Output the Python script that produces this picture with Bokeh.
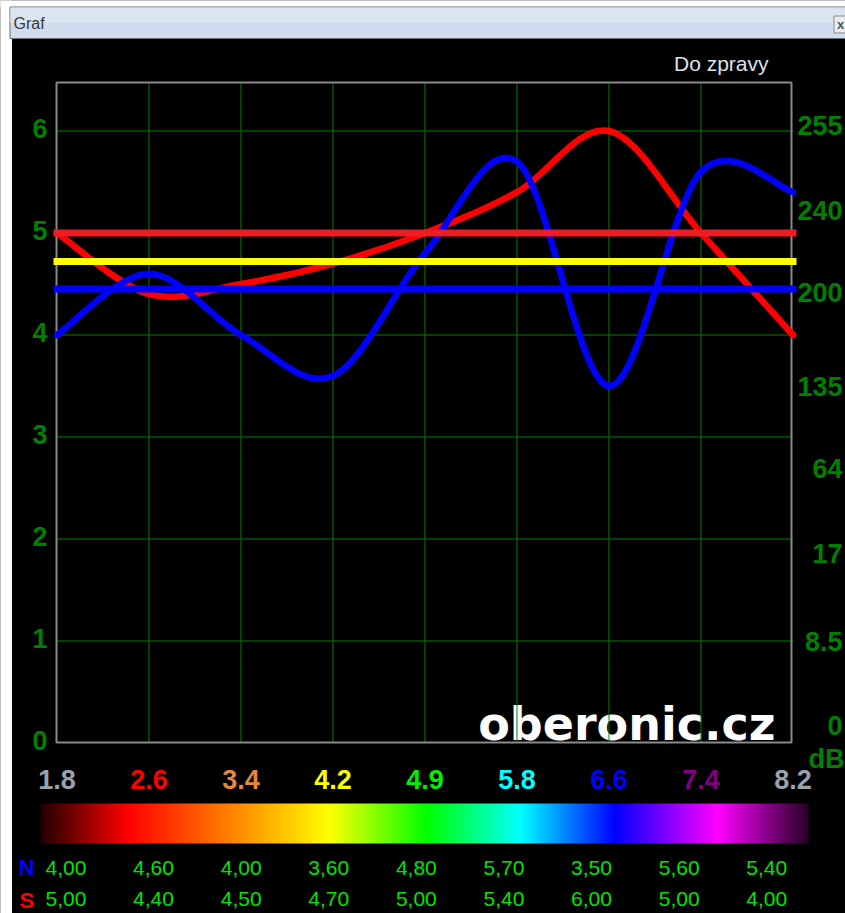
import numpy as np
from bokeh.plotting import figure
from bokeh.models import Range1d
from bokeh.core.properties import value
from bokeh.embed import file_html
from bokeh.resources import INLINE

# ---------------- data ----------------
x_labels = ["1.8", "2.6", "3.4", "4.2", "4.9", "5.8", "6.6", "7.4", "8.2"]
n_values = [4.00, 4.60, 4.00, 3.60, 4.80, 5.70, 3.50, 5.60, 5.40]
s_values = [5.00, 4.40, 4.50, 4.70, 5.00, 5.40, 6.00, 5.00, 4.00]
threshold_values = [5.0, 4.72, 4.45]
left_ticks = [0, 1, 2, 3, 4, 5, 6]
right_labels = ["255", "240", "200", "135", "64", "17", "8.5", "0"]
right_label_pos = [6.05, 5.22, 4.42, 3.50, 2.69, 1.86, 1.00, 0.17]
watermark = "oberonic.cz"
title_text = "Graf"
report_text = "Do zpravy"
unit_text = "dB"

# ---------------- styles ----------------
label_colors = ["#9ba2ab", "#ff0000", "#e8873a", "#ffff00", "#00ee00",
                "#00ffff", "#0000ff", "#800080", "#9ba2ab"]
threshold_colors = ["#ee1c24", "#ffff00", "#0000ff"]
axis_green = "#008000"
grid_green = "#008000"
table_green = "#00e400"
grad_stops = [0.0, 0.113, 0.376, 0.503, 0.625, 0.749, 0.882, 1.0]
grad_colors = [(35, 0, 0), (255, 0, 0), (255, 255, 0), (0, 255, 0),
               (0, 255, 255), (0, 0, 255), (255, 0, 255), (40, 0, 40)]
FONT = "Liberation Sans"

# ---------------- page geometry (px) ----------------
W, H = 845, 913
PX, PY = 92.0, 102.0          # pixels per category step / per y unit
X0, Y0 = 56.5, 742.5          # pixel position of data origin
FRAME_L, FRAME_R, FRAME_T, FRAME_B = 56, 791, 82, 742


def X(px):
    return (px - X0) / PX


def Y(py):
    return (Y0 - py) / PY


def cardinal_bezier(ys, tension=0.5):
    pts = [(float(i), float(v)) for i, v in enumerate(ys)]
    n = len(pts)
    out = {k: [] for k in ("x0", "y0", "x1", "y1", "cx0", "cy0", "cx1", "cy1")}
    k = tension / 3.0
    for i in range(n - 1):
        pp = pts[i - 1] if i > 0 else pts[i]
        p0 = pts[i]
        p1 = pts[i + 1]
        pn = pts[i + 2] if i + 2 < n else pts[i + 1]
        out["x0"].append(p0[0]); out["y0"].append(p0[1])
        out["x1"].append(p1[0]); out["y1"].append(p1[1])
        out["cx0"].append(p0[0] + k * (p1[0] - pp[0]))
        out["cy0"].append(p0[1] + k * (p1[1] - pp[1]))
        out["cx1"].append(p1[0] - k * (pn[0] - p0[0]))
        out["cy1"].append(p1[1] - k * (pn[1] - p0[1]))
    return out


p = figure(width=W, height=H, x_range=Range1d(X(0), X(W)), y_range=Range1d(Y(H), Y(0)),
           x_axis_location=None, y_axis_location=None, title=None,
           min_border_left=0, min_border_right=0, min_border_top=0, min_border_bottom=0,
           background_fill_color="black", border_fill_color="black",
           outline_line_color=None, toolbar_location=None, output_backend="svg")
p.xgrid.visible = False
p.ygrid.visible = False

n_cat = len(x_labels)

# ---------------- grid (crisp 1px lines) ----------------
gx = list(range(1, n_cat - 1))
p.segment(x0=gx, x1=gx, y0=[0] * len(gx), y1=[Y(FRAME_T)] * len(gx),
          line_color=grid_green, line_width=1, level="underlay")
gy = left_ticks[1:]
p.segment(x0=[0] * len(gy), x1=[n_cat - 1] * len(gy), y0=gy, y1=gy,
          line_color=grid_green, line_width=1, level="underlay")

# ---------------- window chrome ----------------
p.quad(left=[X(-2)], right=[X(11.5)], bottom=[Y(H + 2)], top=[Y(0)],
       fill_color="white", line_color=None)
p.quad(left=[X(-2)], right=[X(W + 2)], bottom=[Y(7)], top=[Y(-2)],
       fill_color="white", line_color=None)
p.quad(left=[X(9.5)], right=[X(W + 3)], bottom=[Y(38)], top=[Y(6.5)],
       fill_color="#d0ddee", line_color="#6e6e6e", line_width=1)
p.quad(left=[X(10)], right=[X(W + 3)], bottom=[Y(22)], top=[Y(7)],
       fill_color="#dbe5f2", line_color=None)
p.text(x=[X(13)], y=[Y(23)], text=[title_text], text_align="left", text_baseline="middle",
       text_color="#3a3a3a", text_font=value(FONT), text_font_size="16px")
p.quad(left=[X(833.5)], right=[X(W + 4)], bottom=[Y(32.5)], top=[Y(15.5)],
       fill_color="#e9eef5", line_color="#8a8a8a", line_width=1)
p.text(x=[X(840)], y=[Y(24)], text=["x"], text_align="center", text_baseline="middle",
       text_color="#555555", text_font=value(FONT), text_font_size="13px",
       text_font_style="bold")

# report label
p.text(x=[X(768)], y=[Y(63)], text=[report_text], text_align="right", text_baseline="middle",
       text_color="#dce2ea", text_font=value(FONT), text_font_size="21px")

# ---------------- plot area ----------------
# watermark behind the grid
p.text(x=[X(775)], y=[Y(723)], text=[watermark], text_align="right",
       text_baseline="alphabetic", text_color="white",
       text_font=value("DejaVu Sans"), text_font_style="bold",
       text_font_size="46px", level="image")

# frame
p.quad(left=[X(FRAME_L)], right=[X(FRAME_R)], bottom=[Y(FRAME_B)], top=[Y(FRAME_T)],
       fill_color=None, line_color="#8a8a8a", line_width=2)

# curves
s_bz = cardinal_bezier(s_values)
n_bz = cardinal_bezier(n_values)
p.bezier(**s_bz, line_color="#ff0000", line_width=6.5, line_cap="round")
p.bezier(**n_bz, line_color="#0000ff", line_width=6.5, line_cap="round")

# threshold lines
nt = len(threshold_values)
p.segment(x0=[0] * nt, x1=[n_cat - 1] * nt, y0=threshold_values, y1=threshold_values,
          line_color=threshold_colors, line_width=7, line_cap="square")

# left scale labels
p.text(x=[X(47)] * len(left_ticks), y=left_ticks, text=[str(t) for t in left_ticks],
       text_align="right", text_baseline="middle", y_offset=-3,
       text_color=axis_green, text_font=value(FONT), text_font_size="27px",
       text_font_style="bold")

# right dB scale labels
p.text(x=[X(842)] * len(right_labels), y=right_label_pos, text=right_labels,
       text_align="right", text_baseline="middle", text_color=axis_green,
       text_font=value(FONT), text_font_size="27px", text_font_style="bold")
p.text(x=[X(808)], y=[Y(758)], text=[unit_text], text_align="left", text_baseline="middle",
       text_color=axis_green, text_font=value(FONT), text_font_size="27px",
       text_font_style="bold")

# category labels
p.text(x=list(range(n_cat)), y=[Y(779)] * n_cat, text=x_labels, text_color=label_colors,
       text_align="center", text_baseline="middle",
       text_font=value(FONT), text_font_size="27px", text_font_style="bold")

# ---------------- colour gradient bar ----------------
gw = 768
pos = np.linspace(0, 1, gw)
stops = np.array(grad_stops)
cols = np.array(grad_colors, dtype=float)
img = np.empty((1, gw), dtype=np.uint32)
view = img.view(dtype=np.uint8).reshape((1, gw, 4))
for ch in range(3):
    view[0, :, ch] = np.interp(pos, stops, cols[:, ch]).astype(np.uint8)
view[0, :, 3] = 255
p.image_rgba(image=[img], x=X(40), y=Y(843), dw=gw / PX, dh=40 / PY)

# ---------------- value table ----------------
col_x = [X(45 + i * 87.6) for i in range(len(n_values))]
p.text(x=col_x, y=[Y(867)] * len(n_values), text=[f"{v:.2f}".replace(".", ",") for v in n_values],
       text_color=table_green, text_align="left", text_baseline="middle",
       text_font=value(FONT), text_font_size="21px")
p.text(x=col_x, y=[Y(898)] * len(s_values), text=[f"{v:.2f}".replace(".", ",") for v in s_values],
       text_color=table_green, text_align="left", text_baseline="middle",
       text_font=value(FONT), text_font_size="21px")
p.text(x=[X(18)], y=[Y(867)], text=["N"], text_color="#0000ff", text_align="left",
       text_baseline="middle", text_font=value(FONT), text_font_size="22px",
       text_font_style="bold")
p.text(x=[X(19)], y=[Y(900)], text=["S"], text_color="#ff0000", text_align="left",
       text_baseline="middle", text_font=value(FONT), text_font_size="22px",
       text_font_style="bold")

open("out.html", "w").write(file_html(p, INLINE, title="Graf"))
